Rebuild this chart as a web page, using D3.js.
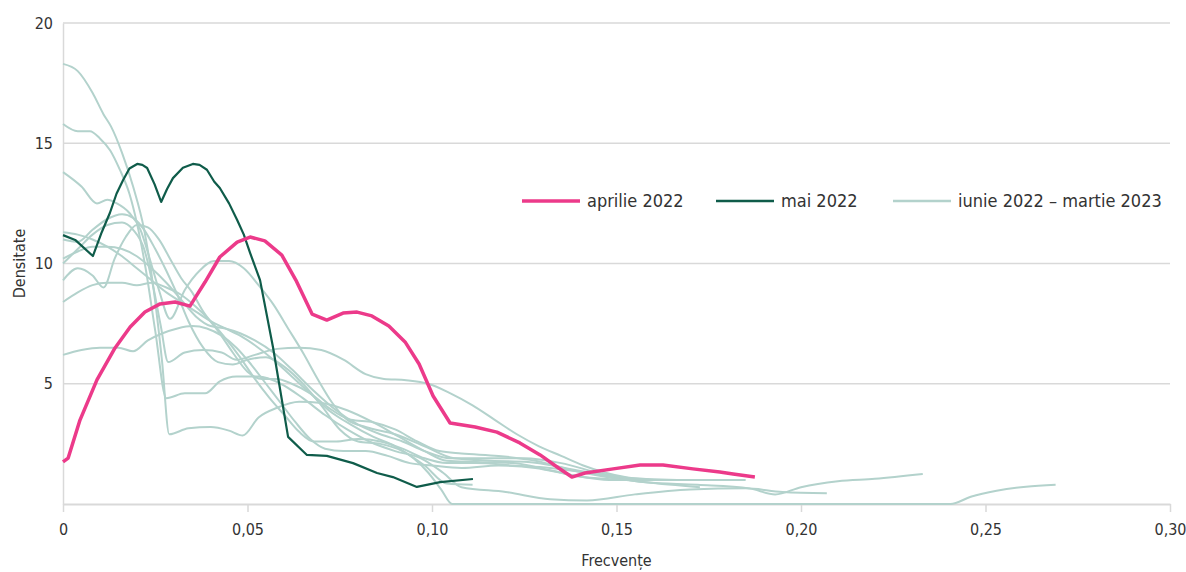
<!DOCTYPE html>
<html>
<head>
<meta charset="utf-8">
<script src="https://cdn.jsdelivr.net/npm/d3@7"></script>
<style>
  body { margin: 0; background: #fff; }
  text { font-family: "Liberation Sans Narrow", "DejaVu Sans Condensed", sans-serif; fill: #333; }
</style>
</head>
<body>
<svg id="chart" width="1186" height="572"></svg>
<script>
// x = frecventa, y = densitate
let aprilie2022 = [
  [0, 1.75], [0.0014, 1.91], [0.0046, 3.49], [0.0092, 5.16], [0.0141, 6.49], [0.0182, 7.36],
  [0.0222, 7.98], [0.0263, 8.32], [0.0304, 8.4], [0.0344, 8.23], [0.0385, 9.23], [0.0425, 10.27],
  [0.0472, 10.89], [0.0507, 11.1], [0.0547, 10.94], [0.0593, 10.35], [0.0631, 9.31], [0.0675, 7.9],
  [0.0715, 7.65], [0.0759, 7.94], [0.0797, 7.98], [0.0837, 7.82], [0.0883, 7.4], [0.0927, 6.74],
  [0.0965, 5.82], [0.1003, 4.49], [0.1049, 3.37], [0.1117, 3.2], [0.1176, 2.99], [0.1238, 2.54],
  [0.1293, 2.04], [0.1339, 1.54], [0.1379, 1.12], [0.1415, 1.29], [0.1491, 1.46], [0.1564, 1.62],
  [0.1626, 1.62], [0.1707, 1.46], [0.178, 1.33], [0.1816, 1.25], [0.1875, 1.12]
];

let mai2022 = [
  [0, 11.18], [0.0033, 10.98], [0.0081, 10.31], [0.0105, 11.3], [0.0127, 12.1], [0.0145, 12.9], [0.0163, 13.47],
  [0.018, 13.95], [0.0201, 14.14], [0.0215, 14.1], [0.0228, 13.97], [0.0248, 13.3], [0.0266, 12.56],
  [0.0282, 13.1], [0.0298, 13.55], [0.0325, 13.98], [0.0352, 14.14], [0.037, 14.1], [0.039, 13.9],
  [0.041, 13.4], [0.0425, 13.14], [0.045, 12.5], [0.0472, 11.81], [0.049, 11.2], [0.0507, 10.44],
  [0.0534, 9.31], [0.0569, 6.53], [0.061, 2.79], [0.0661, 2.04], [0.0715, 2.0], [0.0786, 1.7],
  [0.0851, 1.29], [0.0894, 1.12], [0.0959, 0.71], [0.1022, 0.91], [0.1111, 1.04]
];

// iunie 2022 - martie 2023
let lunileUrmatoare = [
  [[0, 18.3], [0.004, 18.0], [0.008, 17.1], [0.011, 16.2], [0.013, 15.7], [0.016, 14.6], [0.019, 13.2],
   [0.022, 11.4], [0.0245, 9.0], [0.0268, 6.0], [0.0288, 2.9], [0.034, 3.15], [0.04, 3.2], [0.045, 3.05],
   [0.0487, 2.85], [0.053, 3.6], [0.058, 4.0], [0.064, 4.25], [0.07, 4.2], [0.077, 3.9], [0.084, 3.4],
   [0.091, 2.8], [0.098, 2.2], [0.104, 1.8], [0.112, 1.75], [0.122, 1.7], [0.132, 1.4], [0.142, 1.1],
   [0.155, 1.0], [0.17, 1.0], [0.185, 1.0]],
  [[0, 15.8], [0.004, 15.5], [0.0073, 15.5], [0.01, 15.2], [0.0128, 14.7], [0.0154, 13.9], [0.018, 12.9],
   [0.02, 11.7], [0.0225, 9.7], [0.025, 7.2], [0.028, 4.4], [0.033, 4.6], [0.0385, 4.6], [0.0425, 5.1],
   [0.047, 5.3], [0.053, 5.3], [0.059, 5.0], [0.065, 4.4], [0.071, 3.7], [0.077, 3.1], [0.083, 2.6],
   [0.09, 2.2], [0.097, 1.9], [0.103, 1.3], [0.108, 0.7], [0.12, 0.5], [0.132, 0.2], [0.142, 0.15],
   [0.155, 0.4], [0.17, 0.6], [0.185, 0.65], [0.195, 0.5], [0.207, 0.45]],
  [[0, 13.8], [0.005, 13.2], [0.0092, 12.5], [0.012, 12.65], [0.0146, 12.5], [0.018, 12.1], [0.021, 11.4],
   [0.0235, 10.2], [0.026, 8.9], [0.029, 7.7], [0.033, 8.9], [0.037, 9.7], [0.041, 10.1], [0.045, 10.1],
   [0.049, 9.8], [0.053, 9.1], [0.057, 8.3], [0.061, 7.3], [0.065, 6.3], [0.069, 5.2], [0.073, 4.2],
   [0.077, 3.5], [0.082, 3.2], [0.09, 2.9], [0.098, 2.4], [0.106, 1.9], [0.116, 1.8], [0.126, 1.75],
   [0.136, 1.5], [0.146, 1.2], [0.158, 0.9], [0.172, 0.8], [0.186, 0.65], [0.193, 0.4], [0.2, 0.7],
   [0.21, 0.95], [0.22, 1.05], [0.233, 1.25]],
  [[0, 11.3], [0.004, 11.2], [0.008, 11.0], [0.012, 10.7], [0.016, 10.3], [0.02, 9.8], [0.024, 9.3],
   [0.028, 8.8], [0.032, 8.4], [0.036, 8.0], [0.04, 7.6], [0.044, 7.3], [0.048, 7.0], [0.052, 6.6],
   [0.057, 6.0], [0.062, 5.3], [0.067, 4.6], [0.072, 3.9], [0.078, 3.3], [0.084, 2.8], [0.09, 2.4],
   [0.095, 1.9], [0.099, 1.3], [0.1025, 0.6], [0.1055, 0], [0.17, 0], [0.2405, 0], [0.246, 0.3],
   [0.253, 0.55], [0.261, 0.72], [0.269, 0.8]],
  [[0, 11.0], [0.004, 10.9], [0.008, 11.4], [0.012, 11.85], [0.016, 12.05], [0.019, 11.9], [0.022, 11.4],
   [0.025, 10.6], [0.028, 9.7], [0.031, 8.7], [0.034, 7.6], [0.038, 6.5], [0.042, 5.9], [0.046, 5.8],
   [0.05, 6.0], [0.055, 6.1], [0.06, 5.7], [0.065, 5.0], [0.07, 4.1], [0.075, 3.1], [0.08, 2.6],
   [0.086, 2.5], [0.092, 2.2], [0.098, 1.6], [0.104, 0.85], [0.111, 0.8]],
  [[0, 10.2], [0.004, 10.5], [0.008, 10.7], [0.012, 10.7], [0.016, 10.6], [0.02, 10.3], [0.024, 9.8],
   [0.028, 9.2], [0.032, 8.5], [0.036, 7.8], [0.04, 7.4], [0.044, 7.3], [0.048, 7.1], [0.052, 6.8],
   [0.057, 6.3], [0.062, 5.6], [0.068, 4.7], [0.074, 3.9], [0.08, 3.3], [0.086, 2.9], [0.092, 2.6],
   [0.098, 2.2], [0.105, 1.9], [0.115, 1.9], [0.125, 1.9], [0.135, 1.7], [0.145, 1.3], [0.155, 1.0]],
  [[0, 9.3], [0.004, 9.8], [0.008, 9.5], [0.011, 9.0], [0.014, 10.2], [0.017, 11.1], [0.02, 11.6],
   [0.023, 11.5], [0.026, 11.0], [0.029, 10.2], [0.032, 9.4], [0.035, 8.8], [0.038, 8.0], [0.042, 7.2],
   [0.046, 6.3], [0.05, 5.5], [0.054, 5.2], [0.058, 5.2], [0.062, 5.0], [0.067, 4.6], [0.072, 4.0],
   [0.078, 3.5], [0.084, 3.4], [0.09, 3.1], [0.096, 2.6], [0.102, 2.2], [0.108, 2.1], [0.118, 2.0],
   [0.128, 1.8], [0.138, 1.4], [0.148, 1.1], [0.158, 0.9], [0.1726, 0.7]],
  [[0, 8.4], [0.004, 8.8], [0.008, 9.1], [0.012, 9.2], [0.016, 9.2], [0.02, 9.1], [0.024, 9.2],
   [0.028, 9.0], [0.032, 8.7], [0.036, 8.2], [0.04, 7.6], [0.044, 6.9], [0.048, 6.1], [0.052, 5.2],
   [0.056, 4.4], [0.06, 3.7], [0.064, 3.0], [0.068, 2.6], [0.074, 2.6], [0.08, 2.7], [0.086, 2.6],
   [0.092, 2.3], [0.098, 1.9], [0.104, 1.7], [0.112, 1.7], [0.122, 1.6], [0.132, 1.5], [0.142, 1.3],
   [0.152, 1.1], [0.1665, 1.0]],
  [[0, 6.2], [0.005, 6.4], [0.01, 6.5], [0.015, 6.5], [0.019, 6.35], [0.023, 6.8], [0.027, 7.1],
   [0.031, 7.3], [0.035, 7.4], [0.039, 7.3], [0.043, 7.0], [0.047, 6.5], [0.051, 5.8], [0.055, 5.0],
   [0.059, 4.2], [0.063, 3.4], [0.067, 2.7], [0.071, 2.3], [0.076, 2.2], [0.082, 2.2], [0.088, 2.0],
   [0.094, 1.7], [0.1, 1.6], [0.108, 1.5], [0.118, 1.6], [0.128, 1.5], [0.138, 1.2], [0.148, 1.0],
   [0.155, 1.0]],
  [[0, 10.0], [0.004, 10.6], [0.008, 11.2], [0.012, 11.6], [0.016, 11.7], [0.019, 11.4], [0.022, 10.6],
   [0.0245, 9.0], [0.0265, 7.4], [0.0285, 5.9], [0.033, 6.3], [0.038, 6.4], [0.043, 6.3], [0.047, 6.0],
   [0.052, 6.2], [0.058, 6.45], [0.064, 6.5], [0.07, 6.4], [0.076, 6.0], [0.082, 5.4], [0.087, 5.2],
   [0.093, 5.15], [0.099, 5.0], [0.105, 4.6], [0.111, 4.1], [0.117, 3.5], [0.123, 2.9], [0.129, 2.4],
   [0.135, 2.0], [0.141, 1.6], [0.147, 1.3], [0.153, 1.1], [0.16, 1.0], [0.17, 1.0]]
];

let xTicks = [0, 0.05, 0.1, 0.15, 0.2, 0.25, 0.3];
let yTicks = [5, 10, 15, 20];
let legendItems = ["aprilie 2022", "mai 2022", "iunie 2022 – martie 2023"];

let fontStack = '"Liberation Sans Narrow", "DejaVu Sans Condensed", sans-serif';

let svg = d3.select("#chart");
let margin = { left: 63, right: 16, top: 23, bottom: 68 };
let width = 1186 - margin.left - margin.right;
let height = 572 - margin.top - margin.bottom;

let g = svg.append("g").attr("transform", "translate(" + margin.left + "," + margin.top + ")");

let x = d3.scaleLinear().domain([0, 0.3]).range([0, width]);
let y = d3.scaleLinear().domain([0, 20]).range([height, 0]);

let gridColor = "#d9d9d9";
let pink = "#ec3a8a";
let darkGreen = "#0f5c4a";
let grey = "#b3d2cc";

// gridlines
g.selectAll(".grid")
  .data(yTicks)
  .enter()
  .append("line")
  .attr("x1", 0)
  .attr("x2", width)
  .attr("y1", d => y(d))
  .attr("y2", d => y(d))
  .attr("stroke", gridColor)
  .attr("stroke-width", 1.5);

// y axis
let yAxis = g.append("g").call(d3.axisLeft(y).tickValues([0].concat(yTicks)).tickSize(0).tickPadding(10));
yAxis.select(".domain").attr("stroke", gridColor).attr("stroke-width", 1.5);
yAxis.selectAll("text").attr("font-size", 16).style("fill", "#333")
  .style("font-family", fontStack)
  .text(d => d === 0 ? "" : d);

// x axis
let xAxis = g.append("g")
  .attr("transform", "translate(0," + height + ")")
  .call(d3.axisBottom(x).tickValues(xTicks).tickSize(8).tickSizeOuter(0).tickPadding(12)
    .tickFormat(d => d === 0 ? "0" : d.toFixed(2).replace(".", ",")));
xAxis.select(".domain").attr("stroke", gridColor).attr("stroke-width", 2);
xAxis.selectAll(".tick line").attr("stroke", gridColor).attr("stroke-width", 1.5);
xAxis.selectAll("text").attr("font-size", 16).style("fill", "#333")
  .style("font-family", fontStack);

let smooth = d3.line()
  .x(d => x(d[0]))
  .y(d => y(d[1]))
  .curve(d3.curveMonotoneX);

let straight = d3.line()
  .x(d => x(d[0]))
  .y(d => y(d[1]));

g.selectAll(".grey")
  .data(lunileUrmatoare)
  .enter()
  .append("path")
  .attr("d", smooth)
  .attr("fill", "none")
  .attr("stroke", grey)
  .attr("stroke-width", 2);

g.append("path")
  .attr("d", straight(mai2022))
  .attr("fill", "none")
  .attr("stroke", darkGreen)
  .attr("stroke-width", 2.2)
  .attr("stroke-linejoin", "round");

g.append("path")
  .attr("d", straight(aprilie2022))
  .attr("fill", "none")
  .attr("stroke", pink)
  .attr("stroke-width", 3.5)
  .attr("stroke-linejoin", "round");

// axis titles
svg.append("text")
  .attr("x", margin.left + width / 2)
  .attr("y", 566)
  .attr("text-anchor", "middle")
  .attr("font-size", 16)
  .text("Frecvențe");

svg.append("text")
  .attr("transform", "translate(25," + (margin.top + height / 2) + ") rotate(-90)")
  .attr("text-anchor", "middle")
  .attr("font-size", 16)
  .text("Densitate");

// legend
let legendX = [522, 716, 893];
let legendColors = [pink, darkGreen, grey];
let legendWidths = [3.5, 2.5, 2.5];
let legend = svg.selectAll(".legend")
  .data(legendItems)
  .enter()
  .append("g")
  .attr("transform", (d, i) => "translate(" + legendX[i] + ",201)");
legend.append("line")
  .attr("x1", 0).attr("x2", 58)
  .attr("stroke", (d, i) => legendColors[i])
  .attr("stroke-width", (d, i) => legendWidths[i]);
legend.append("text")
  .attr("x", 65)
  .attr("dy", "0.35em")
  .attr("font-size", 18)
  .text(d => d);
</script>
</body>
</html>
